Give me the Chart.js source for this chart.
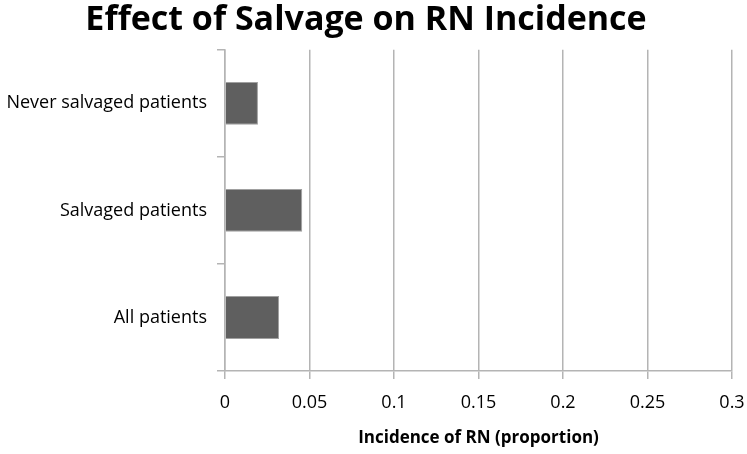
<!DOCTYPE html>
<html>
<head>
<meta charset="utf-8">
<script src="https://cdn.jsdelivr.net/npm/chart.js@4/dist/chart.umd.min.js"></script>
<style>
  html, body { margin: 0; padding: 0; background: #fff; }
  #myChart { display: block; }
</style>
</head>
<body>
<canvas id="myChart" width="747" height="454"></canvas>
<script>
const categories = ['Never salvaged patients', 'Salvaged patients', 'All patients'];
const incidence = [0.0195, 0.0457, 0.032];
const xTickLabels = ['0', '0.05', '0.1', '0.15', '0.2', '0.25', '0.3'];

const fontFamily = "'Open Sans', 'DejaVu Sans', sans-serif";

const ctx = document.getElementById('myChart').getContext('2d');
new Chart(ctx, {
	type: 'bar',
	data: {
		labels: categories,
		datasets: [
			{
				label: 'Incidence of RN',
				data: incidence,
				backgroundColor: '#5f5f5f',
				borderColor: '#a0a0a0',
				borderWidth: 1,
				categoryPercentage: 0.8,
				barPercentage: 0.5,
			}
		]
	},
	options: {
		indexAxis: 'y',
		responsive: false,
		animation: false,
		layout: { padding: { left: 0, right: 15, top: 0, bottom: 0 } },
		plugins: {
			legend: { display: false },
			tooltip: { enabled: false },
			title: {
				display: true,
				text: 'Effect of Salvage on RN Incidence',
				color: '#000',
				font: { family: fontFamily, size: 34, weight: 'bold' },
				padding: { top: 0, bottom: 9 },
			}
		},
		scales: {
			x: {
				min: 0,
				max: 0.3,
				ticks: {
					stepSize: 0.05,
					color: '#000',
					font: { family: fontFamily, size: 18 },
					padding: 13,
					maxRotation: 0,
					callback: (v, i) => xTickLabels[i],
				},
				grid: { color: '#b4b4b4', lineWidth: 1.5, tickLength: 8 },
				border: { color: '#b4b4b4', width: 1.5 },
				title: {
					display: true,
					text: 'Incidence of RN (proportion)',
					color: '#000',
					font: { family: fontFamily, size: 17, weight: 'bold' },
					padding: { top: 4, bottom: 6 },
				},
				afterFit: (scale) => {
					scale.height = 83;
					scale.paddingRight = 0;
					scale.paddingLeft = 0;
				},
			},
			y: {
				ticks: {
					color: '#000',
					font: { family: fontFamily, size: 18 },
					padding: 10,
				},
				grid: { drawOnChartArea: false, color: '#b4b4b4', lineWidth: 1.5, tickLength: 8 },
				border: { color: '#b4b4b4', width: 1.5 },
				afterFit: (scale) => { scale.width = 225; },
			}
		}
	}
});
</script>
</body>
</html>
